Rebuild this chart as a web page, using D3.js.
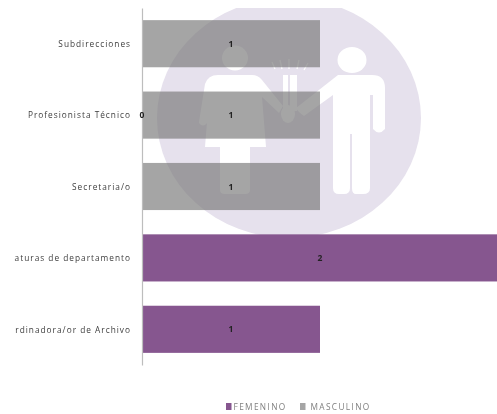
<!DOCTYPE html>
<html><head><meta charset="utf-8">
<style>html,body{margin:0;padding:0;background:#fff}svg{display:block}</style>
<script src="https://cdn.jsdelivr.net/npm/d3@7"></script></head>
<body><svg id="c" width="497" height="414"></svg>
<script>
const categories = ["Subdirecciones","Profesionista Técnico","Secretaria/o","Jefaturas de departamento","Coordinadora/or de Archivo"];
const femenino = [null,0,null,2,1];
const masculino = [1,1,1,null,null];
const seriesNames = ["FEMENINO","MASCULINO"];
const seriesColors = ["#86568f","#a5a5a5"];
const xDomain = [0,2];

const W=497,H=414;
const svg=d3.select("#c");
const defs=svg.append("defs");
defs.append("filter").attr("id","soft").attr("x",0).attr("y",0).attr("width","100%").attr("height","100%")
  .append("feGaussianBlur").attr("stdDeviation",0.65);
defs.append("clipPath").attr("id","wm").append("rect").attr("x",0).attr("y",8).attr("width",W).attr("height",H);

const root=svg.append("g").attr("filter","url(#soft)");
root.append("rect").attr("width",W).attr("height",H).attr("fill","#fff");

// watermark picture behind the plot
const wm=root.append("g").attr("clip-path","url(#wm)");
wm.append("ellipse").attr("cx",289).attr("cy",118).attr("rx",132).attr("ry",120).attr("fill","#e6e1ed");
const w=wm.append("g").attr("fill","#fff");
// woman
w.append("ellipse").attr("cx",235).attr("cy",58).attr("rx",13).attr("ry",12.5);
w.append("path").attr("d","M218 75 L252 75 Q258 75 262 80 L283 106 L279 113 L262 97 L266 147 L250 147 L250 190 Q250 194 245 194 L225 194 Q220 194 220 190 L220 147 L205 147 L209 97 L207 123 Q203 128 199 123 L199 122 L205 84 Q208 75 218 75Z");
// man
w.append("ellipse").attr("cx",352).attr("cy",60).attr("rx",14.5).attr("ry",13);
w.append("path").attr("d","M338 75 L372 75 Q385 75 385 88 L385 129 Q379 136 373 129 L373 95 L370 95 L370 188 Q370 194 363 194 L356 194 Q352 194 352 188 L352 134 L350 134 L350 188 Q350 194 344 194 L339 194 Q333 194 333 188 L333 95 L304 116 Q298 112 296 108 Z");
// clasped hands and flower
w.append("ellipse").attr("cx",288).attr("cy",114).attr("rx",7).attr("ry",9);
w.append("rect").attr("x",283).attr("y",75).attr("width",5).attr("height",36);
w.append("rect").attr("x",290).attr("y",75).attr("width",7).attr("height",36);
w.selectAll("line.s").data([[272,62,275,69],[280,60,282,69],[289,59,289,69],[299,60,297,69],[308,63,304,70]]).join("line")
  .attr("x1",d=>d[0]).attr("y1",d=>d[1]).attr("x2",d=>d[2]).attr("y2",d=>d[3]).attr("stroke","#fff").attr("stroke-width",1.3);

const x=d3.scaleLinear().domain(xDomain).range([142,498]);
const y=d3.scaleBand().domain(categories).range([8,365]).paddingInner(0.34).paddingOuter(0.17);

const rows=categories.map((c,i)=>({c,f:femenino[i],m:masculino[i]}));
const stack=d3.stack().keys(["f","m"]).value((d,k)=>d[k]||0)(rows);
const bars=root.append("g");
// the grey bars are translucent so the picture shows faintly through them
const barFill=[seriesColors[0],"#787878"];
const barAlpha=[1,0.667];
stack.forEach((s,si)=>{
  bars.selectAll(null).data(s).join("rect")
    .attr("x",d=>x(d[0])).attr("y",d=>y(d.data.c))
    .attr("width",d=>x(d[1])-x(d[0])).attr("height",y.bandwidth())
    .attr("fill",barFill[si]).attr("fill-opacity",barAlpha[si]);
});

// axis line and category labels
const yAxis=d3.axisLeft(y).tickSize(0).tickPadding(11);
const ag=root.append("g").attr("transform",`translate(${x(0)},0)`).call(yAxis);
ag.select(".domain").attr("stroke","#bdbdbd").attr("stroke-width",1.2);
ag.selectAll("text").attr("font-family","'Open Sans',sans-serif").attr("font-size",8.3).attr("fill","#3c3c3c").attr("letter-spacing",1).attr("dy","0.4em").attr("clip-path","url(#lab2)");
defs.append("clipPath").attr("id","lab2")
  .append("rect").attr("x",14-x(0)).attr("y",-20).attr("width",130).attr("height",40);

// value labels
const vl=root.append("g").attr("font-family","'Open Sans',sans-serif").attr("font-size",8.5).attr("font-weight",700).attr("fill","#222").attr("text-anchor","middle");
stack.forEach((s,si)=>{
  const key=si===0?"f":"m";
  vl.selectAll(null).data(s.filter(d=>d.data[key]!==null)).join("text")
    .attr("x",d=>x((d[0]+d[1])/2)).attr("y",d=>y(d.data.c)+y.bandwidth()/2+3)
    .text(d=>d.data[key]);
});

// legend
const legendX=[226,300];
const lg=root.append("g");
seriesNames.forEach((n,i)=>{
  lg.append("rect").attr("x",legendX[i]).attr("y",403).attr("width",5.5).attr("height",7).attr("fill",seriesColors[i]);
  lg.append("text").attr("x",legendX[i]+(i?10.5:7.5)).attr("y",409.5).attr("font-family","'Open Sans',sans-serif").attr("font-size",8.3).attr("fill","#808080").attr("letter-spacing",1.35).text(n);
});
</script></body></html>
